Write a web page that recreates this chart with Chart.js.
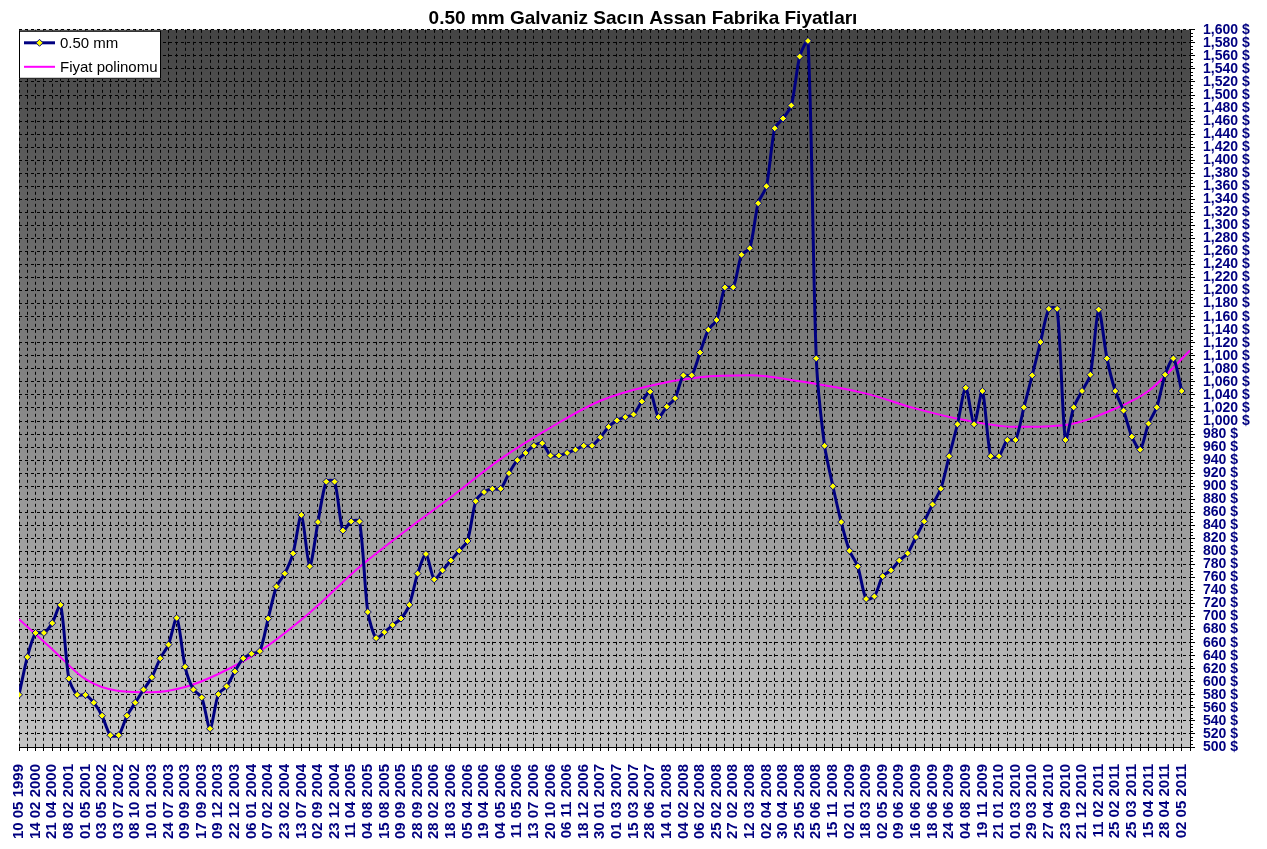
<!DOCTYPE html>
<html>
<head>
<meta charset="utf-8">
<title>0.50 mm Galvaniz Sacın Assan Fabrika Fiyatları</title>
<script src="https://cdn.jsdelivr.net/npm/chart.js@4.4.1/dist/chart.umd.min.js"></script>
<style>
    html, body { margin: 0; padding: 0; background: #fff; }
    #wrap { width: 1267px; height: 849px; position: relative; }
</style>
</head>
<body>
<div id="wrap"><canvas id="priceChart"></canvas></div>
<script>
// tick labels, one for every second price point
const dates = [
    '10 05 1999', '14 02 2000', '21 04 2000', '08 02 2001', '01 05 2001', '03 05 2002', '03 07 2002',
    '08 10 2002', '10 01 2003', '24 07 2003', '09 09 2003', '17 09 2003', '09 12 2003', '22 12 2003',
    '06 01 2004', '07 02 2004', '23 02 2004', '13 07 2004', '02 09 2004', '23 12 2004', '11 04 2005',
    '04 08 2005', '15 08 2005', '09 09 2005', '28 09 2005', '28 02 2006', '18 03 2006', '05 04 2006',
    '19 04 2006', '04 05 2006', '11 05 2006', '13 07 2006', '20 10 2006', '06 11 2006', '18 12 2006',
    '30 01 2007', '01 03 2007', '15 03 2007', '28 06 2007', '14 01 2008', '04 02 2008', '06 02 2008',
    '25 02 2008', '27 02 2008', '12 03 2008', '02 04 2008', '30 04 2008', '25 05 2008', '25 06 2008',
    '15 11 2008', '02 01 2009', '18 03 2009', '02 05 2009', '09 06 2009', '16 06 2009', '18 06 2009',
    '24 06 2009', '04 08 2009', '19 11 2009', '21 01 2010', '01 03 2010', '29 03 2010', '27 04 2010',
    '23 09 2010', '21 12 2010', '11 02 2011', '25 02 2011', '25 03 2011', '15 04 2011', '28 04 2011',
    '02 05 2011'
];

// 0.50 mm sheet price, one value per category
const prices = [
    580, 638, 675, 675, 690, 718, 605, 580, 580, 568,
    548, 518, 518, 548, 568, 588, 607, 636, 657, 698,
    623, 588, 576, 528, 581, 593, 616, 636, 643, 647,
    697, 746, 766, 797, 856, 777, 845, 907, 907, 832,
    846, 846, 707, 667, 676, 687, 697, 718, 766, 796,
    757, 771, 786, 801, 816, 877, 891, 896, 896, 920,
    940, 951, 962, 966, 947, 947, 951, 956, 962, 962,
    975, 991, 1001, 1006, 1010, 1030, 1045, 1006, 1022, 1035,
    1070, 1070, 1105, 1140, 1155, 1205, 1205, 1255, 1265, 1334,
    1360, 1449, 1464, 1484, 1559, 1583, 1096, 962, 900, 845,
    801, 777, 727, 731, 762, 771, 786, 797, 822, 846,
    872, 896, 946, 995, 1051, 995, 1046, 946, 946, 971,
    971, 1021, 1070, 1121, 1172, 1172, 971, 1021, 1046, 1071,
    1171, 1096, 1046, 1016, 976, 956, 996, 1021, 1071, 1096,
    1046
];

// polynomial trend line at these categories
const trendAt = [0, 4, 8, 12, 16, 20, 24, 29, 35, 41, 47, 52, 58, 64, 70, 76, 82, 88, 94, 102, 108, 114, 120, 126, 132, 136, 141];
const trendValues = [696, 650, 604, 586, 584, 592, 612, 647, 706, 776, 836, 883, 942, 990, 1031, 1054, 1067, 1070, 1061, 1042, 1019, 1001, 991, 994, 1019, 1046, 1108];

const lastCategory = prices.length; // axis runs one category past the last price
const navy = '#000080';
const fontFamily = "Arial, 'Liberation Sans', sans-serif";

// grey gradient behind the plot
const plotBackground = {
    id: 'plotBackground',
    beforeDraw(chart) {
        const { ctx, chartArea: a } = chart;
        const g = ctx.createLinearGradient(0, a.top, 0, a.bottom);
        g.addColorStop(0, '#444444');
        g.addColorStop(1, '#c4c4c4');
        ctx.save();
        ctx.fillStyle = g;
        ctx.fillRect(a.left, a.top, a.right - a.left, a.bottom - a.top);
        ctx.restore();
    }
};

// small minor ticks on the value axis
const minorTicks = {
    id: 'minorTicks',
    afterDraw(chart) {
        const { ctx, chartArea: a } = chart;
        const y = chart.scales.y;
        ctx.save();
        ctx.strokeStyle = '#000';
        ctx.lineWidth = 1;
        ctx.beginPath();
        for (let v = y.min; v <= y.max; v += 5) {
            if (v % 20 === 0) continue;
            const py = Math.round(y.getPixelForValue(v)) + 0.5;
            ctx.moveTo(a.right, py);
            ctx.lineTo(a.right + 3, py);
        }
        ctx.stroke();
        ctx.restore();
    }
};

// boxed legend in the top left corner of the plot
const boxLegend = {
    id: 'boxLegend',
    afterDraw(chart) {
        const { ctx, chartArea: a } = chart;
        const x = a.left, y = a.top + 1, w = 142, h = 48;
        ctx.save();
        ctx.fillStyle = '#fff';
        ctx.fillRect(x, y, w, h);
        ctx.strokeStyle = '#000';
        ctx.lineWidth = 1;
        ctx.strokeRect(x + 0.5, y + 0.5, w - 1, h - 1);
        chart.data.datasets.forEach((ds, i) => {
            const ly = y + 12 + i * 24;
            ctx.strokeStyle = ds.borderColor;
            ctx.lineWidth = ds.borderWidth;
            ctx.beginPath();
            ctx.moveTo(x + 5, ly);
            ctx.lineTo(x + 36, ly);
            ctx.stroke();
            if (ds.pointRadius) {
                ctx.fillStyle = ds.pointBackgroundColor;
                ctx.strokeStyle = ds.pointBorderColor;
                ctx.lineWidth = 1;
                ctx.beginPath();
                ctx.moveTo(x + 20.5 - 3.5, ly);
                ctx.lineTo(x + 20.5, ly - 3.5);
                ctx.lineTo(x + 20.5 + 3.5, ly);
                ctx.lineTo(x + 20.5, ly + 3.5);
                ctx.closePath();
                ctx.fill();
                ctx.stroke();
            }
            ctx.fillStyle = '#000';
            ctx.font = '15px ' + fontFamily;
            ctx.textBaseline = 'middle';
            ctx.fillText(ds.label, x + 41, ly + 1);
        });
        ctx.restore();
    }
};

document.addEventListener('DOMContentLoaded', () => {
    const ctx = document.getElementById('priceChart').getContext('2d');

    new Chart(ctx, {
        type: 'line',
        data: {
            datasets: [{
                label: '0.50 mm',
                data: prices.map((p, i) => ({ x: i, y: p })),
                borderColor: navy,
                borderWidth: 3,
                tension: 0.25,
                pointStyle: 'rectRot',
                pointRadius: 3.5,
                pointBackgroundColor: '#ffff00',
                pointBorderColor: navy,
                pointBorderWidth: 1,
                order: 1
            }, {
                label: 'Fiyat polinomu',
                data: trendAt.map((c, i) => ({ x: c, y: trendValues[i] })),
                borderColor: '#ff00ff',
                borderWidth: 2,
                cubicInterpolationMode: 'monotone',
                pointRadius: 0,
                order: 2
            }]
        },
        options: {
            responsive: true,
            maintainAspectRatio: false,
            animation: false,
            layout: { padding: { left: 19, right: 0, top: 0, bottom: 0 } },
            plugins: {
                legend: { display: false },
                tooltip: { enabled: false },
                title: {
                    display: true,
                    text: '0.50 mm Galvaniz Sacın Assan Fabrika Fiyatları',
                    color: '#000',
                    font: { family: fontFamily, size: 19, weight: 'bold' },
                    padding: { top: 7, bottom: 0 }
                }
            },
            scales: {
                x: {
                    type: 'linear',
                    min: 0,
                    max: lastCategory,
                    afterBuildTicks: (scale) => {
                        scale.ticks = Array.from({ length: lastCategory + 1 }, (_, i) => ({ value: i }));
                    },
                    afterFit: (scale) => { scale.height = 102; },
                    ticks: {
                        autoSkip: false,
                        minRotation: 90,
                        maxRotation: 90,
                        padding: 13,
                        color: navy,
                        font: { family: fontFamily, size: 15, weight: 'bold' },
                        callback: (value) => (value % 2 === 0 && dates[value / 2]) ? dates[value / 2] : ''
                    },
                    grid: {
                        color: '#000',
                        lineWidth: 1,
                        tickLength: 4,
                        tickColor: '#000',
                        tickBorderDash: []
                    },
                    border: { display: true, color: '#000', width: 1, dash: [3, 3] }
                },
                y: {
                    position: 'right',
                    min: 500,
                    max: 1600,
                    afterFit: (scale) => { scale.width = 77; },
                    ticks: {
                        stepSize: 20,
                        autoSkip: false,
                        padding: 8,
                        color: navy,
                        font: { family: fontFamily, size: 14, weight: 'bold' },
                        callback: (value) => value.toLocaleString('en-US') + ' $'
                    },
                    grid: {
                        color: '#000',
                        lineWidth: 1,
                        tickLength: 5,
                        tickColor: '#000',
                        tickBorderDash: []
                    },
                    border: { display: true, color: '#000', width: 1, dash: [3, 3] }
                }
            }
        },
        plugins: [plotBackground, minorTicks, boxLegend]
    });
});
</script>
</body>
</html>
